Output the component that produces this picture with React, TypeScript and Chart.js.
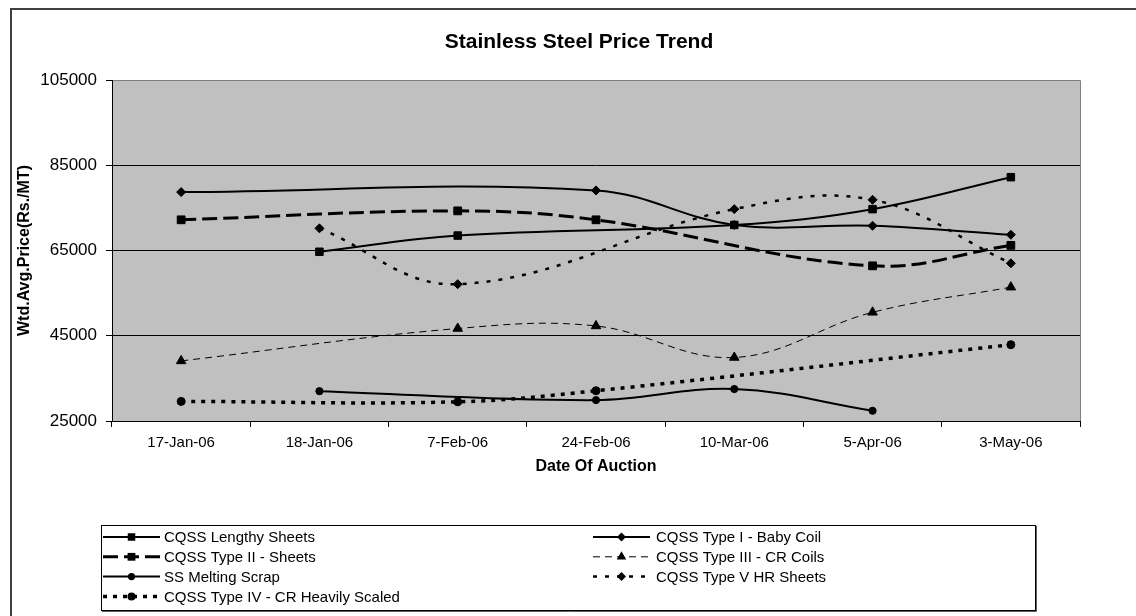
import React, { useEffect, useRef } from 'react';
import { Chart, registerables } from 'chart.js';

Chart.register(...registerables);

const FONT = '"Liberation Sans", Arial, Helvetica, sans-serif';

const chartTitle = 'Stainless Steel Price Trend';
const xAxisTitle = 'Date Of Auction';
const yAxisTitle = 'Wtd.Avg.Price(Rs./MT)';

const categories = ['17-Jan-06', '18-Jan-06', '7-Feb-06', '24-Feb-06', '10-Mar-06', '5-Apr-06', '3-May-06'];
const yMin = 25000;
const yMax = 105000;
const yStep = 20000;

const seriesNames = [
  'CQSS Lengthy Sheets',
  'CQSS Type I - Baby Coil',
  'CQSS Type II - Sheets',
  'CQSS Type III - CR Coils',
  'SS Melting Scrap',
  'CQSS Type V HR Sheets',
  'CQSS Type IV - CR Heavily Scaled',
];

const lengthySheets = [null, 64700, 68500, null, 71000, 74700, 82200];
const typeIBabyCoil = [78700, null, null, 79100, 71000, 70800, 68700];
const typeIISheets = [72200, null, 74300, 72200, null, 61400, 66200];
const typeIIICRCoils = [39100, null, 46700, 47300, 39900, 50500, 56400];
const ssMeltingScrap = [null, 32000, null, 29900, 32500, 27400, null];
const typeVHRSheets = [null, 70200, 57100, null, 74700, 76900, 62000];
const typeIVCRHeavilyScaled = [29600, null, 29500, 32100, null, null, 42900];

const seriesValues = [
  lengthySheets,
  typeIBabyCoil,
  typeIISheets,
  typeIIICRCoils,
  ssMeltingScrap,
  typeVHRSheets,
  typeIVCRHeavilyScaled,
];

const seriesStyles = [
  { dash: [], width: 2, point: 'rect', radius: 5.3 },
  { dash: [], width: 2, point: 'rectRot', radius: 4.5 },
  { dash: [15, 6], width: 3, point: 'rect', radius: 5.5 },
  { dash: [7, 5], width: 1, point: 'triangle', radius: 5.5 },
  { dash: [], width: 2, point: 'circle', radius: 3.6 },
  { dash: [4, 8], width: 2.5, point: 'rectRot', radius: 4.5 },
  { dash: [4, 6], width: 3.5, point: 'circle', radius: 4 },
];

function drawMarker(ctx: CanvasRenderingContext2D, style: string, x: number, y: number, r: number) {
  ctx.beginPath();
  if (style === 'circle') {
    ctx.arc(x, y, r, 0, Math.PI * 2);
  } else if (style === 'rect') {
    const s = Math.SQRT1_2 * r;
    ctx.rect(x - s, y - s, 2 * s, 2 * s);
  } else if (style === 'rectRot') {
    ctx.moveTo(x - r, y);
    ctx.lineTo(x, y - r);
    ctx.lineTo(x + r, y);
    ctx.lineTo(x, y + r);
    ctx.closePath();
  } else if (style === 'triangle') {
    ctx.moveTo(x, y - r);
    ctx.lineTo(x + 0.866 * r, y + 0.5 * r);
    ctx.lineTo(x - 0.866 * r, y + 0.5 * r);
    ctx.closePath();
  }
  ctx.fill();
}

const decorPlugin = {
  id: 'decor',
  beforeDraw(chart: any) {
    const { ctx, chartArea: a } = chart;
    ctx.save();
    ctx.fillStyle = '#ffffff';
    ctx.fillRect(0, 0, chart.width, chart.height);
    ctx.fillStyle = '#C0C0C0';
    ctx.fillRect(a.left, a.top, a.right - a.left, a.bottom - a.top);
    ctx.strokeStyle = '#808080';
    ctx.lineWidth = 1;
    ctx.beginPath();
    ctx.moveTo(a.left, Math.round(a.top) + 0.5);
    ctx.lineTo(Math.round(a.right) + 0.5, Math.round(a.top) + 0.5);
    ctx.lineTo(Math.round(a.right) + 0.5, a.bottom);
    ctx.stroke();
    // outer chart frame
    ctx.strokeStyle = '#404040';
    ctx.lineWidth = 2;
    ctx.beginPath();
    ctx.moveTo(11, chart.height + 10);
    ctx.lineTo(11, 9);
    ctx.lineTo(chart.width + 10, 9);
    ctx.stroke();
    ctx.restore();
  },
  afterDraw(chart: any) {
    const { ctx } = chart;
    ctx.save();
    // title
    ctx.fillStyle = '#000';
    ctx.font = `bold 21px ${FONT}`;
    ctx.textAlign = 'center';
    ctx.textBaseline = 'middle';
    ctx.fillText(chartTitle, 579, 42);

    // legend box
    ctx.strokeStyle = '#000';
    ctx.lineWidth = 1;
    ctx.strokeRect(101.5, 525.5, 934, 85);
    ctx.strokeStyle = '#606060';
    ctx.beginPath();
    ctx.moveTo(1036.5, 526);
    ctx.lineTo(1036.5, 611.5);
    ctx.lineTo(102, 611.5);
    ctx.stroke();

    // legend items
    ctx.font = `15px ${FONT}`;
    ctx.textAlign = 'left';
    ctx.textBaseline = 'middle';
    chart.data.datasets.forEach((ds: any, i: number) => {
      const col = i % 2;
      const row = Math.floor(i / 2);
      const x0 = col === 0 ? 103 : 593;
      const tx = col === 0 ? 164 : 656;
      const y = 537 + row * 19.8;
      const st = seriesStyles[i];
      ctx.strokeStyle = '#000';
      ctx.lineWidth = st.width;
      ctx.setLineDash(st.dash);
      ctx.beginPath();
      ctx.moveTo(x0, y);
      ctx.lineTo(x0 + 57, y);
      ctx.stroke();
      ctx.setLineDash([]);
      ctx.fillStyle = '#000';
      drawMarker(ctx, st.point, x0 + 28.5, y, st.radius);
      ctx.fillText(ds.label, tx, y + 1);
    });
    ctx.restore();
  },
};

export default function App() {
  const ref = useRef<HTMLCanvasElement>(null);

  useEffect(() => {
    if (!ref.current) return;
    const datasets = seriesNames.map((name, i) => ({
      label: name,
      data: seriesValues[i],
      borderColor: '#000',
      backgroundColor: '#000',
      borderWidth: seriesStyles[i].width,
      borderDash: seriesStyles[i].dash,
      pointStyle: seriesStyles[i].point,
      pointRadius: seriesStyles[i].radius,
      pointBackgroundColor: '#000',
      pointBorderColor: '#000',
      pointBorderWidth: 1,
      tension: 0.38,
      spanGaps: true,
      fill: false,
    }));

    const chart = new Chart(ref.current, {
      type: 'line',
      data: { labels: categories, datasets },
      plugins: [decorPlugin],
      options: {
        responsive: false,
        animation: false,
        devicePixelRatio: 1,
        events: [],
        layout: { padding: { left: 10, right: 56, top: 80, bottom: 135 } },
        plugins: {
          legend: { display: false },
          title: { display: false },
          tooltip: { enabled: false },
        },
        scales: {
          x: {
            type: 'category',
            offset: true,
            afterFit: (scale: any) => {
              scale.height = 60;
            },
            grid: {
              display: true,
              drawOnChartArea: false,
              drawTicks: true,
              tickLength: 6,
              offset: true,
              color: '#000',
              tickColor: '#000',
            },
            border: { display: true, color: '#000', width: 1 },
            ticks: {
              color: '#000',
              font: { family: FONT, size: 15 },
              padding: 7,
              maxRotation: 0,
              autoSkip: false,
            },
            title: {
              display: true,
              text: xAxisTitle,
              color: '#000',
              font: { family: FONT, size: 16, weight: 'bold' },
              padding: { top: 0, bottom: 5 },
            },
          },
          y: {
            min: yMin,
            max: yMax,
            afterFit: (scale: any) => {
              scale.width = 102;
            },
            grid: {
              drawTicks: true,
              tickLength: 6,
              tickColor: '#000',
              color: (c: any) => (c.tick && c.tick.value === yMax ? '#808080' : '#000'),
            },
            border: { display: true, color: '#000', width: 1 },
            ticks: {
              stepSize: yStep,
              color: '#000',
              font: { family: FONT, size: 17 },
              padding: 9,
              callback: (v: any) => String(v),
            },
            title: {
              display: true,
              text: yAxisTitle,
              color: '#000',
              font: { family: FONT, size: 16, weight: 'bold' },
              padding: { top: 5, bottom: 0 },
            },
          },
        },
      },
    } as any);

    return () => chart.destroy();
  }, []);

  return (
    <div style={{ position: 'absolute', left: 0, top: 0, width: 1136, height: 616 }}>
      <canvas ref={ref} width={1136} height={616} style={{ display: 'block' }} />
    </div>
  );
}
